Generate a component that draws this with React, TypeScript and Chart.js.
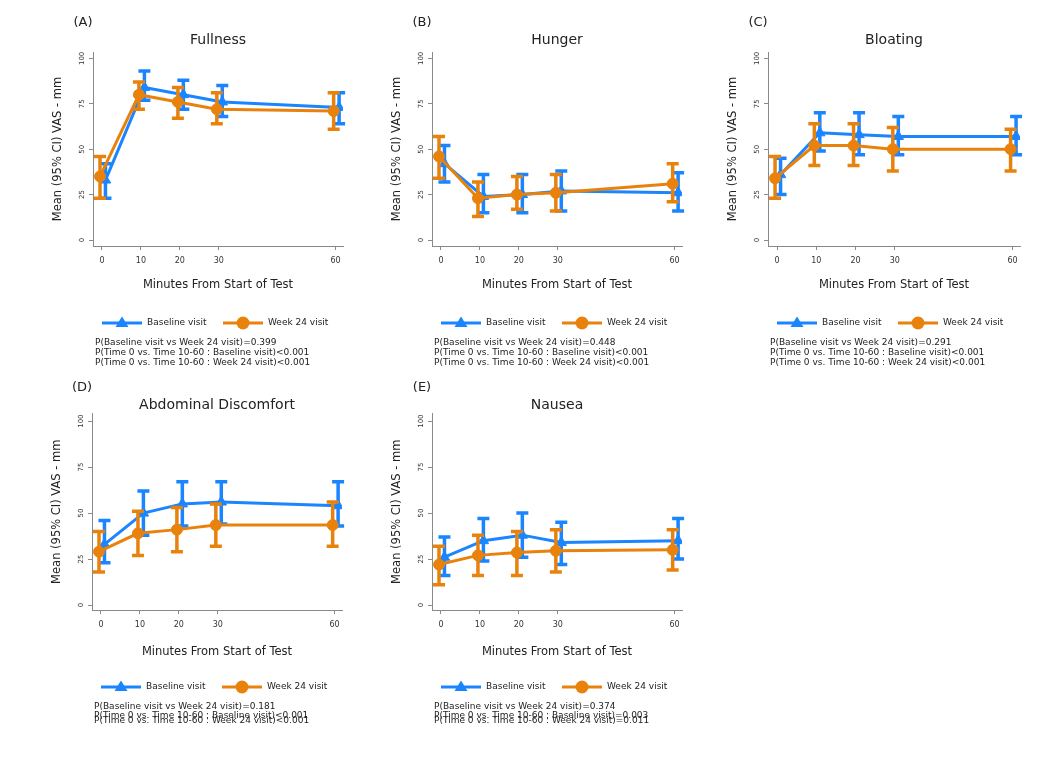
import React, { useEffect, useRef } from 'react';
import { Chart, registerables } from 'chart.js';

Chart.register(...registerables);

// ---------------- DATA ----------------
const MINUTES = [0, 10, 20, 30, 60];
const X_TICKS = [0, 10, 20, 30, 60];
const Y_TICKS = [0, 25, 50, 75, 100];
const SERIES_LABELS = ['Baseline visit', 'Week 24 visit'];
const X_TITLE = 'Minutes From Start of Test';
const Y_TITLE = 'Mean (95% CI) VAS - mm';

// (A) Fullness
const fullnessBaseMean = [33, 84, 80, 76, 73];
const fullnessBaseLo = [23, 77, 72, 68, 64];
const fullnessBaseHi = [42, 93, 88, 85, 81];
const fullnessWk24Mean = [35, 80, 76, 72, 71];
const fullnessWk24Lo = [23, 72, 67, 64, 61];
const fullnessWk24Hi = [46, 87, 84, 81, 81];
const fullnessP = ['P(Baseline visit vs Week 24 visit)=0.399', 'P(Time 0 vs. Time 10-60 : Baseline visit)<0.001', 'P(Time 0 vs. Time 10-60 : Week 24 visit)<0.001'];

// (B) Hunger
const hungerBaseMean = [42, 24, 25, 27, 26];
const hungerBaseLo = [32, 15, 15, 16, 16];
const hungerBaseHi = [52, 36, 36, 38, 37];
const hungerWk24Mean = [46, 23, 25, 26, 31];
const hungerWk24Lo = [34, 13, 17, 16, 21];
const hungerWk24Hi = [57, 32, 35, 36, 42];
const hungerP = ['P(Baseline visit vs Week 24 visit)=0.448', 'P(Time 0 vs. Time 10-60 : Baseline visit)<0.001', 'P(Time 0 vs. Time 10-60 : Week 24 visit)<0.001'];

// (C) Bloating
const bloatingBaseMean = [36, 59, 58, 57, 57];
const bloatingBaseLo = [25, 49, 47, 47, 47];
const bloatingBaseHi = [45, 70, 70, 68, 68];
const bloatingWk24Mean = [34, 52, 52, 50, 50];
const bloatingWk24Lo = [23, 41, 41, 38, 38];
const bloatingWk24Hi = [46, 64, 64, 62, 61];
const bloatingP = ['P(Baseline visit vs Week 24 visit)=0.291', 'P(Time 0 vs. Time 10-60 : Baseline visit)<0.001', 'P(Time 0 vs. Time 10-60 : Week 24 visit)<0.001'];

// (D) Abdominal Discomfort
const abdBaseMean = [33, 50, 55, 56, 54];
const abdBaseLo = [23, 38, 43, 44, 43];
const abdBaseHi = [46, 62, 67, 67, 67];
const abdWk24Mean = [29, 39, 41, 43.5, 43.5];
const abdWk24Lo = [18, 27, 29, 32, 32];
const abdWk24Hi = [40, 51, 53, 55, 56];
const abdP = ['P(Baseline visit vs Week 24 visit)=0.181', 'P(Time 0 vs. Time 10-60 : Baseline visit)<0.001', 'P(Time 0 vs. Time 10-60 : Week 24 visit)<0.001'];

// (E) Nausea
const nauseaBaseMean = [26, 35, 38, 34, 35];
const nauseaBaseLo = [16, 24, 26, 22, 25];
const nauseaBaseHi = [37, 47, 50, 45, 47];
const nauseaWk24Mean = [22, 27, 28.5, 29.5, 30];
const nauseaWk24Lo = [11, 16, 16, 18, 19];
const nauseaWk24Hi = [32, 38, 40, 41, 41];
const nauseaP = ['P(Baseline visit vs Week 24 visit)=0.374', 'P(Time 0 vs. Time 10-60 : Baseline visit)=0.003', 'P(Time 0 vs. Time 10-60 : Week 24 visit)=0.011'];

// ---------------- STYLE ----------------
const BLUE = '#1a85ff';
const ORANGE = '#e8820c';
const FONT = "'DejaVu Sans', sans-serif";
const TEXT = '#222';
const AXIS = '#8a8a8a';
const BASE_DODGE = 0.9;
const WK24_DODGE = -0.5;

const ROWS: any = {
  top: { canvasTop: 0, height: 380, chartTop: 52, chartBottom: 246, yMin: -3.3, yMax: 103.5, titleCenter: 40, xH: 46, letterDy: -29, pOffsets: [96.7, 106.7, 116.7] },
  bottom: { canvasTop: 370, height: 394, chartTop: 43, chartBottom: 240, yMin: -2.7, yMax: 104.2, titleCenter: 35, xH: 49, letterDy: -26, pOffsets: [96.7, 106, 111] },
};

const PANELS = [
  { letter: '(A)', title: 'Fullness', row: 'top', left: 45, plotW: 250, base: [fullnessBaseMean, fullnessBaseLo, fullnessBaseHi], wk: [fullnessWk24Mean, fullnessWk24Lo, fullnessWk24Hi], p: fullnessP },
  { letter: '(B)', title: 'Hunger', row: 'top', left: 384, plotW: 250, base: [hungerBaseMean, hungerBaseLo, hungerBaseHi], wk: [hungerWk24Mean, hungerWk24Lo, hungerWk24Hi], p: hungerP },
  { letter: '(C)', title: 'Bloating', row: 'top', left: 720, plotW: 252, base: [bloatingBaseMean, bloatingBaseLo, bloatingBaseHi], wk: [bloatingWk24Mean, bloatingWk24Lo, bloatingWk24Hi], p: bloatingP },
  { letter: '(D)', title: 'Abdominal Discomfort', row: 'bottom', left: 44, plotW: 250, base: [abdBaseMean, abdBaseLo, abdBaseHi], wk: [abdWk24Mean, abdWk24Lo, abdWk24Hi], p: abdP },
  { letter: '(E)', title: 'Nausea', row: 'bottom', left: 384, plotW: 250, base: [nauseaBaseMean, nauseaBaseLo, nauseaBaseHi], wk: [nauseaWk24Mean, nauseaWk24Lo, nauseaWk24Hi], p: nauseaP },
];

const CANVAS_W = 330;
const Y_SCALE_W = 42;
const PAD_LEFT = 6;

const errorBarPlugin = {
  id: 'errorBars',
  beforeDatasetDraw(chart: any, args: any) {
    const ds = chart.data.datasets[args.index];
    const meta = args.meta;
    const ys = chart.scales.y;
    const ctx = chart.ctx;
    ctx.save();
    ctx.strokeStyle = ds.borderColor;
    ctx.lineWidth = 3.5;
    ctx.lineCap = 'butt';
    meta.data.forEach((pt: any, i: number) => {
      const x = pt.x;
      const yLo = ys.getPixelForValue(ds.lo[i]);
      const yHi = ys.getPixelForValue(ds.hi[i]);
      ctx.beginPath();
      ctx.moveTo(x, yLo);
      ctx.lineTo(x, yHi);
      ctx.moveTo(x - 6, yLo);
      ctx.lineTo(x + 6, yLo);
      ctx.moveTo(x - 6, yHi);
      ctx.lineTo(x + 6, yHi);
      ctx.stroke();
    });
    ctx.restore();
  },
};

const annotPlugin = {
  id: 'panelAnnot',
  afterDraw(chart: any, _args: any, opts: any) {
    const ctx = chart.ctx;
    const ca = chart.chartArea;
    const row = ROWS[opts.row];
    ctx.save();
    ctx.fillStyle = TEXT;
    ctx.font = `13px ${FONT}`;
    ctx.textAlign = 'center';
    ctx.textBaseline = 'middle';
    ctx.fillText(opts.letter, ca.left - 10, ca.top + row.letterDy);

    const ly = ca.bottom + 77;
    const dsets = chart.data.datasets;
    const entries = [
      { ds: dsets[0], x0: ca.left + 9 },
      { ds: dsets[1], x0: ca.left + 130 },
    ];
    entries.forEach(({ ds, x0 }) => {
      ctx.strokeStyle = ds.borderColor;
      ctx.fillStyle = ds.borderColor;
      ctx.lineWidth = 3;
      ctx.beginPath();
      ctx.moveTo(x0, ly);
      ctx.lineTo(x0 + 40, ly);
      ctx.stroke();
      const cx = x0 + 20;
      ctx.beginPath();
      if (ds.pointStyle === 'triangle') {
        ctx.moveTo(cx, ly - 6.5);
        ctx.lineTo(cx + 6.5, ly + 4);
        ctx.lineTo(cx - 6.5, ly + 4);
        ctx.closePath();
      } else {
        ctx.arc(cx, ly, 6.5, 0, Math.PI * 2);
      }
      ctx.fill();
      ctx.fillStyle = TEXT;
      ctx.font = `9px ${FONT}`;
      ctx.textAlign = 'left';
      ctx.textBaseline = 'middle';
      ctx.fillText(ds.label, x0 + 45, ly);
    });

    ctx.fillStyle = TEXT;
    ctx.font = `9px ${FONT}`;
    ctx.textAlign = 'left';
    ctx.textBaseline = 'middle';
    (opts.p as string[]).forEach((t, i) => {
      ctx.fillText(t, ca.left + 2, ca.bottom + row.pOffsets[i]);
    });
    ctx.restore();
  },
};

function Panel({ cfg }: { cfg: any }) {
  const ref = useRef<HTMLCanvasElement>(null);
  const row = ROWS[cfg.row];
  useEffect(() => {
    const lh = 14 * 1.2;
    const chart = new Chart(ref.current as HTMLCanvasElement, {
      type: 'line',
      data: {
        datasets: [
          {
            label: SERIES_LABELS[0],
            data: MINUTES.map((m, i) => ({ x: m + BASE_DODGE, y: cfg.base[0][i] })),
            lo: cfg.base[1],
            hi: cfg.base[2],
            borderColor: BLUE,
            backgroundColor: BLUE,
            borderWidth: 3,
            pointStyle: 'triangle',
            pointRadius: 6,
            pointBorderWidth: 1,
            tension: 0,
            order: 1,
          } as any,
          {
            label: SERIES_LABELS[1],
            data: MINUTES.map((m, i) => ({ x: m + WK24_DODGE, y: cfg.wk[0][i] })),
            lo: cfg.wk[1],
            hi: cfg.wk[2],
            borderColor: ORANGE,
            backgroundColor: ORANGE,
            borderWidth: 3,
            pointStyle: 'circle',
            pointRadius: 5.5,
            pointBorderWidth: 1,
            tension: 0,
            order: 0,
          } as any,
        ],
      },
      options: {
        responsive: false,
        animation: false,
        devicePixelRatio: 1,
        layout: {
          padding: {
            left: PAD_LEFT,
            right: CANVAS_W - PAD_LEFT - Y_SCALE_W - cfg.plotW,
            top: 0,
            bottom: row.height - row.chartBottom - row.xH,
          },
        },
        scales: {
          x: {
            type: 'linear',
            min: -2.3,
            max: 61.9,
            afterBuildTicks: (s: any) => { s.ticks = X_TICKS.map((v) => ({ value: v })); },
            afterFit: (s: any) => { s.height = row.xH; },
            grid: { display: true, drawOnChartArea: false, drawTicks: true, tickLength: 4, color: AXIS },
            border: { display: true, color: AXIS, width: 1 },
            ticks: { autoSkip: false, maxRotation: 0, padding: 6, color: '#333', font: { family: FONT, size: 8 } },
            title: { display: true, text: X_TITLE, color: TEXT, padding: 0, font: { family: FONT, size: 11.5 } },
          },
          y: {
            type: 'linear',
            min: row.yMin,
            max: row.yMax,
            afterBuildTicks: (s: any) => { s.ticks = Y_TICKS.map((v) => ({ value: v })); },
            afterFit: (s: any) => { s.width = Y_SCALE_W; },
            grid: { display: true, drawOnChartArea: false, drawTicks: true, tickLength: 4, color: AXIS },
            border: { display: true, color: AXIS, width: 1 },
            ticks: { autoSkip: false, minRotation: 90, maxRotation: 90, crossAlign: 'center', padding: 0.5, color: '#333', font: { family: FONT, size: 7 } },
            title: { display: true, text: Y_TITLE, color: TEXT, padding: 0, font: { family: FONT, size: 11.5 } },
          },
        },
        plugins: {
          legend: { display: false },
          tooltip: { enabled: false },
          title: {
            display: true,
            text: cfg.title,
            fullSize: false,
            color: TEXT,
            font: { family: FONT, size: 14, weight: 'normal' },
            padding: { top: row.titleCenter - lh / 2, bottom: Math.max(0, row.chartTop - row.titleCenter - lh / 2) },
          },
          panelAnnot: { letter: cfg.letter, p: cfg.p, row: cfg.row },
        } as any,
      },
      plugins: [errorBarPlugin, annotPlugin],
    });
    return () => chart.destroy();
  }, []);
  return (
    <canvas
      ref={ref}
      width={CANVAS_W}
      height={row.height}
      style={{ position: 'absolute', left: cfg.left, top: row.canvasTop, width: CANVAS_W, height: row.height }}
    />
  );
}

export default function App() {
  return (
    <div style={{ position: 'absolute', left: 0, top: 0, width: 1050, height: 764, background: '#fff', overflow: 'hidden' }}>
      {PANELS.map((p) => (
        <Panel key={p.letter} cfg={p} />
      ))}
    </div>
  );
}
